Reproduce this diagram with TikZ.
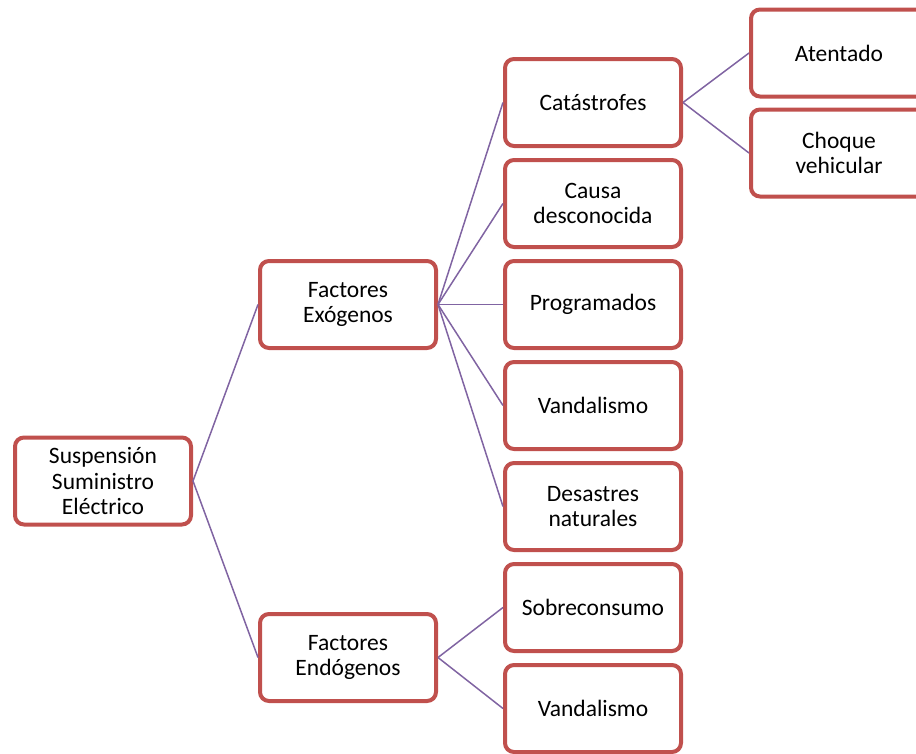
\documentclass[tikz,border=0pt]{standalone}
\usepackage{fontspec}
\setmainfont{Carlito}
\definecolor{boxred}{HTML}{C0504D}
\definecolor{linkpurple}{HTML}{8064A2}
\begin{document}
\begin{tikzpicture}[x=1pt,y=-1pt,
  item/.style={draw=boxred, line width=4pt, rounded corners=9pt, fill=white,
    minimum width=176pt, minimum height=87pt, inner sep=2pt,
    align=center, text width=166pt,
    font=\fontsize{23.5}{25.5}\selectfont},
  link/.style={draw=linkpurple, line width=1.5pt}]
\useasboundingbox (0,0) rectangle (916,753);
\clip (0,0) rectangle (916,753);

% root
\node[item] (root) at (103,481) {Suspensión\\Suministro\\Eléctrico};

% first level
\node[item] (exo) at (348,304.5) {Factores\\Exógenos};
\node[item] (endo) at (348,657.5) {Factores\\Endógenos};

% second level
\node[item] (cat)  at (593,102.5) {Catástrofes};
\node[item] (causa) at (593,203.5) {Causa\\desconocida};
\node[item] (prog) at (593,304.5) {Programados};
\node[item] (vand) at (593,405.5) {Vandalismo};
\node[item] (des)  at (593,506.5) {Desastres\\naturales};
\node[item] (sob)  at (593,607.5) {Sobreconsumo};
\node[item] (vand2) at (593,708.5) {Vandalismo};

% third level (runs past the right edge)
\node[item] (aten) at (839,53) {Atentado};
\node[item] (choq) at (839,153) {Choque\\vehicular};

% connectors
\draw[link] (root.east) -- (exo.west);
\draw[link] (root.east) -- (endo.west);
\foreach \c in {cat,causa,prog,vand,des}
  \draw[link] (exo.east) -- (\c.west);
\foreach \c in {sob,vand2}
  \draw[link] (endo.east) -- (\c.west);
\draw[link] (cat.east) -- (aten.west);
\draw[link] (cat.east) -- (choq.west);
\end{tikzpicture}
\end{document}
